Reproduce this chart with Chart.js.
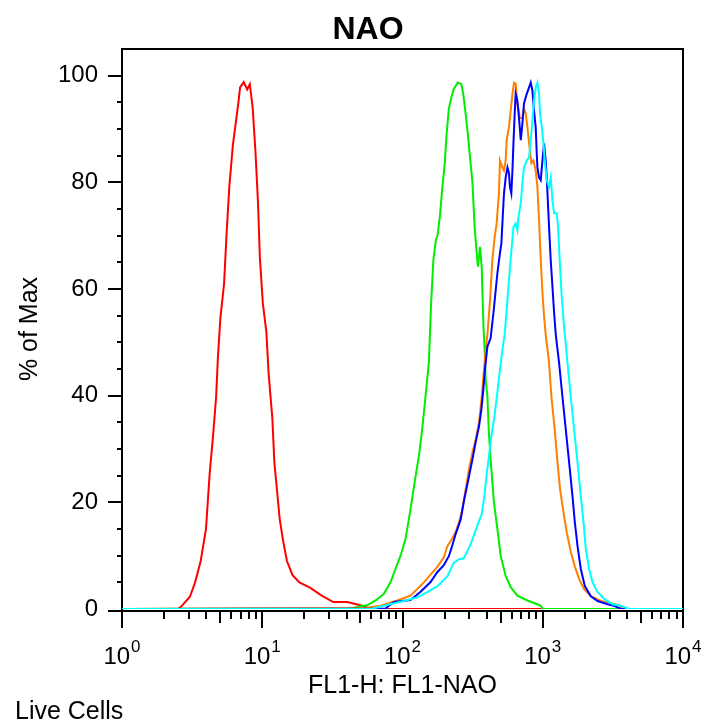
<!DOCTYPE html>
<html><head><meta charset="utf-8">
<script src="https://cdn.jsdelivr.net/npm/chart.js@4"></script>
<style>html,body{margin:0;padding:0;background:#fff}</style>
</head><body>
<canvas id="c" width="710" height="727"></canvas>
<script>
const titleText = 'NAO';
const xTitle = 'FL1-H: FL1-NAO';
const yTitle = '% of Max';
const footText = 'Live Cells';
const xTickValues = [1, 10, 100, 1000, 10000];
const xTickBase = ['10', '10', '10', '10', '10'];
const xTickExp = ['0', '1', '2', '3', '4'];
const yTickValues = [0, 20, 40, 60, 80, 100];

const redX = [1, 2.5, 2.63, 3.05, 3.32, 3.64, 3.97, 4.21, 4.47, 4.69, 4.83, 5.03, 5.34, 5.56, 5.82, 6.18, 6.44, 6.75, 6.95, 7.38, 7.81, 8.15, 8.54, 8.96, 9.33, 9.61, 10.1, 10.7, 11.1, 11.8, 12.2, 12.8, 13.3, 14.1, 15.0, 16.4, 18.4, 21.9, 26.2, 32.1, 40.3, 50.1, 59, 10000];
const redY = [0, 0, 0.4, 2.3, 5.0, 9.0, 15.0, 25.1, 32.8, 39.8, 47.2, 54.6, 60.9, 70.0, 79.1, 87.1, 90.7, 94.8, 97.8, 98.8, 97.4, 98.4, 94.1, 85.4, 76.1, 66.0, 57.3, 51.9, 44.2, 35.8, 27.5, 21.7, 17.0, 12.7, 9.0, 6.4, 5.0, 4.0, 2.6, 1.3, 1.3, 0.7, 0, 0];

const greenX = [1, 42.5, 50.1, 56.0, 64.2, 73.5, 82.1, 89.1, 96.8, 105, 111, 117, 124, 131, 138, 146, 154, 160, 166, 173, 178, 185, 192, 200, 206, 214, 223, 232, 248, 263, 271, 282, 293, 303, 315, 327, 338, 345, 357, 367, 377, 385, 392, 403, 413, 425, 449, 475, 501, 544, 591, 659, 778, 916, 968, 1000, 10000];
const greenY = [0, 0.1, 0.5, 0.7, 1.6, 2.8, 5.0, 7.5, 10.0, 13.1, 16.8, 20.6, 24.9, 28.7, 33.6, 39.9, 46.1, 57.3, 65.4, 69.2, 70.1, 73.8, 78.8, 83.5, 88.8, 93.8, 95.9, 97.5, 98.7, 98.4, 96.6, 92.8, 88.8, 84.7, 80.1, 71.6, 66.7, 64.2, 67.9, 64.2, 53.6, 48.6, 43.0, 39.9, 33.0, 28.0, 19.9, 15.0, 10.0, 6.2, 4.1, 2.5, 1.6, 0.9, 0.6, 0, 0];

const orangeX = [1, 54.4, 69.6, 91.7, 114, 142, 158, 177, 197, 209, 220, 239, 253, 267, 282, 298, 315, 332, 351, 361, 371, 381, 392, 403, 421, 437, 454, 469, 487, 495, 515, 529, 544, 553, 574, 591, 608, 624, 641, 659, 688, 716, 735, 756, 778, 799, 830, 858, 891, 916, 941, 968, 995, 1021, 1050, 1109, 1153, 1218, 1274, 1330, 1406, 1483, 1585, 1693, 1817, 1972, 2203, 2595, 3060, 3510, 3728, 10000];
const orangeY = [0, 0.2, 0.6, 1.6, 2.5, 5.0, 6.4, 7.9, 9.7, 11.8, 12.7, 14.4, 16.3, 18.7, 22.4, 26.2, 29.3, 31.8, 35.0, 37.9, 41.1, 44.9, 48.6, 51.4, 57.9, 65.4, 69.7, 72.3, 77.9, 84.1, 82.8, 82.2, 84.1, 87.9, 90.3, 93.5, 96.6, 98.7, 98.5, 94.8, 92.1, 92.0, 93.8, 92.9, 90.3, 87.3, 83.6, 84.1, 82.2, 79.1, 72.9, 65.4, 59.3, 55.0, 51.4, 46.2, 39.8, 33.6, 27.5, 22.4, 18.1, 14.4, 10.7, 8.0, 5.6, 3.7, 2.4, 1.5, 1.1, 0.7, 0, 0];

const blueX = [1, 75.6, 86.7, 114, 134, 158, 177, 197, 214, 226, 239, 260, 274, 298, 315, 332, 351, 365, 377, 387, 403, 425, 445, 462, 475, 495, 507, 520, 529, 544, 560, 574, 584, 597, 608, 618, 631, 641, 659, 677, 697, 716, 735, 769, 799, 821, 844, 866, 891, 906, 916, 941, 968, 995, 1021, 1050, 1068, 1081, 1109, 1140, 1173, 1205, 1239, 1307, 1382, 1460, 1542, 1630, 1693, 1770, 1868, 1995, 2203, 2459, 2897, 3230, 3606, 10000];
const blueY = [0, 0.1, 1.3, 1.7, 3.2, 5.0, 6.9, 8.2, 9.9, 11.8, 14.0, 16.8, 20.2, 24.9, 28.0, 31.2, 34.2, 37.4, 41.1, 44.9, 49.2, 50.8, 55.5, 59.8, 63.0, 66.7, 68.6, 74.2, 77.9, 80.9, 82.8, 81.7, 79.1, 77.9, 82.2, 87.3, 92.9, 96.6, 95.3, 92.1, 87.9, 91.0, 94.8, 96.6, 97.8, 98.7, 97.2, 93.5, 90.3, 85.4, 82.8, 80.9, 80.4, 84.1, 87.3, 84.1, 80.9, 77.9, 71.6, 65.4, 60.4, 55.5, 51.4, 46.2, 39.8, 33.6, 27.5, 21.1, 16.3, 11.8, 7.5, 4.3, 2.4, 1.5, 0.9, 0.6, 0, 0];

const cyanX = [1, 60, 73.2, 102, 128, 151, 178, 210, 231, 251, 273, 306, 338, 367, 385, 398, 415, 432, 454, 477, 497, 518, 535, 553, 574, 598, 618, 641, 659, 671, 697, 716, 735, 769, 799, 821, 844, 866, 891, 916, 941, 957, 984, 1012, 1033, 1068, 1109, 1140, 1173, 1205, 1259, 1286, 1329, 1360, 1419, 1501, 1585, 1674, 1770, 1868, 1953, 2028, 2141, 2265, 2459, 2741, 3148, 3607, 4116, 10000];
const cyanY = [0, 0, 0.6, 1.5, 2.2, 3.2, 4.3, 6.2, 8.6, 9.3, 9.5, 12.1, 15.3, 17.8, 21.5, 25.2, 29.0, 32.7, 36.4, 41.1, 45.2, 49.0, 51.4, 56.1, 61.7, 67.3, 71.6, 72.3, 71.0, 73.5, 76.1, 79.8, 82.8, 84.1, 84.7, 87.9, 91.6, 95.3, 97.8, 98.7, 96.6, 92.9, 90.3, 87.3, 84.1, 80.4, 79.1, 80.9, 76.6, 74.2, 74.2, 71.6, 64.1, 59.3, 52.9, 46.2, 39.8, 33.6, 27.5, 21.1, 16.3, 11.2, 7.5, 5.0, 3.2, 1.9, 0.9, 0.6, 0, 0];

const seriesNames = ['cyan', 'blue', 'orange', 'green', 'red'];
const seriesColors = ['#00ffff', '#0000ff', '#ff8000', '#00ee00', '#ff0000'];
const seriesX = [cyanX, blueX, orangeX, greenX, redX];
const seriesY = [cyanY, blueY, orangeY, greenY, redY];

const FONT = '"Liberation Sans", Arial, sans-serif';

const axesPlugin = {
  id: 'axesPlugin',
  beforeDatasetsDraw(chart) {
    const {ctx, chartArea: a, scales: {x, y}} = chart;
    const axisY = a.bottom + 2;
    ctx.save();
    ctx.strokeStyle = '#000';
    ctx.lineWidth = 2;
    ctx.lineCap = 'butt';
    ctx.beginPath();
    ctx.moveTo(a.left, axisY + 17);
    ctx.lineTo(a.left, a.top);
    ctx.lineTo(a.right, a.top);
    ctx.lineTo(a.right, axisY + 17);
    ctx.moveTo(a.left - 14, axisY);
    ctx.lineTo(a.right, axisY);
    for (let v = 5; v <= 100; v += 5) {
      const py = Math.round(y.getPixelForValue(v));
      const len = yTickValues.includes(v) ? 14 : 5;
      ctx.moveTo(a.left - len, py);
      ctx.lineTo(a.left, py);
    }
    for (let d = 0; d < 4; d++) {
      for (let m = 1; m <= 9; m++) {
        const v = m * Math.pow(10, d);
        const px = Math.round(x.getPixelForValue(v));
        const len = m === 1 ? 17 : (m === 5 ? 12 : 8);
        ctx.moveTo(px, axisY);
        ctx.lineTo(px, axisY + len);
      }
    }
    ctx.stroke();
    ctx.restore();
  },
  afterDraw(chart) {
    const {ctx, chartArea: a, scales: {x}} = chart;
    ctx.save();
    ctx.fillStyle = '#000';
    ctx.font = 'bold 32px ' + FONT;
    ctx.textAlign = 'center';
    ctx.textBaseline = 'middle';
    ctx.fillText(titleText, 368, 30);
    ctx.textAlign = 'left';
    ctx.textBaseline = 'alphabetic';
    xTickValues.forEach((v, i) => {
      const px = x.getPixelForValue(v);
      ctx.font = '24px ' + FONT;
      const wb = ctx.measureText(xTickBase[i]).width;
      ctx.font = '17px ' + FONT;
      const we = ctx.measureText(xTickExp[i]).width;
      const start = px - (wb + 1 + we) / 2;
      ctx.font = '24px ' + FONT;
      ctx.fillText(xTickBase[i], start, a.bottom + 55);
      ctx.font = '17px ' + FONT;
      ctx.fillText(xTickExp[i], start + wb + 1, a.bottom + 43);
    });
    ctx.font = '25px ' + FONT;
    ctx.textBaseline = 'middle';
    ctx.fillText(footText, 15, 712);
    ctx.restore();
  }
};

new Chart(document.getElementById('c'), {
  type: 'line',
  data: {
    datasets: seriesNames.map((n, k) => ({
      label: n,
      data: seriesX[k].map((xv, i) => ({x: xv, y: seriesY[k][i]})),
      borderColor: seriesColors[k],
      borderWidth: 2,
      pointRadius: 0,
      tension: 0,
      fill: false
    }))
  },
  options: {
    responsive: false,
    animation: false,
    devicePixelRatio: 1,
    layout: {padding: {left: 0, right: 27, top: 49, bottom: 0}},
    plugins: {legend: {display: false}, tooltip: {enabled: false}, title: {display: false}},
    scales: {
      x: {
        type: 'logarithmic', min: 1, max: 10000,
        afterBuildTicks(s) { s.ticks = xTickValues.map(v => ({value: v})); },
        afterFit(s) { s.height = 118; s.paddingLeft = 0; s.paddingRight = 0; },
        grid: {display: false, drawTicks: false},
        border: {display: false},
        ticks: {display: false},
        title: {display: true, text: xTitle, color: '#000', font: {family: FONT, size: 25}, padding: {top: 0, bottom: 26}}
      },
      y: {
        min: 0, max: 105,
        afterBuildTicks(s) { s.ticks = yTickValues.map(v => ({value: v})); },
        afterFit(s) { s.width = 122; s.paddingTop = 0; s.paddingBottom = 0; },
        grid: {display: false, drawTicks: false},
        border: {display: false},
        ticks: {padding: 24, color: '#000', font: {family: FONT, size: 24}},
        title: {display: true, text: yTitle, color: '#000', font: {family: FONT, size: 25}, padding: {top: 15, bottom: 0}}
      }
    }
  },
  plugins: [axesPlugin]
});
</script>
</body></html>
